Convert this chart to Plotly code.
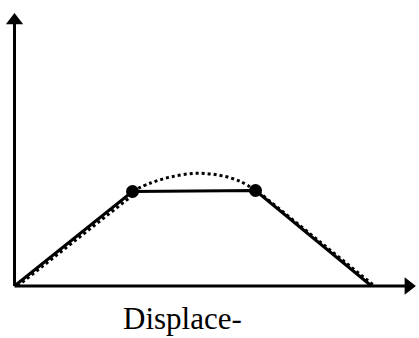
import plotly.graph_objects as go

# Data (units: displacement / force, origin at axis corner)
solid_x = [0, 118, 241, 357]
solid_y = [0, 94.5, 95.5, 0]

dot_pts_x = [118, 241]
dot_pts_y = [94.5, 95.5]

dotted_left_x = [3, 121]
dotted_left_y = [0, 93]
dotted_arc_x = [118, 136, 156, 182, 206, 226, 241]
dotted_arc_y = [95, 103, 109, 112.7, 110.5, 104.5, 95.5]
dotted_right_x = [244, 360]
dotted_right_y = [94, 0]

axis_x_end = 392
axis_y_end = 262
x_label = "Displace-"

fig = go.Figure()

# axes
fig.add_trace(go.Scatter(x=[0, 0], y=[0, axis_y_end], mode="lines",
                         line=dict(color="black", width=3), hoverinfo="skip"))
fig.add_trace(go.Scatter(x=[0, axis_x_end], y=[0, 0], mode="lines",
                         line=dict(color="black", width=3), hoverinfo="skip"))
fig.add_trace(go.Scatter(x=[0], y=[265.4], mode="markers",
                         marker=dict(symbol="triangle-up", size=15, color="black"),
                         hoverinfo="skip"))
fig.add_trace(go.Scatter(x=[393.9], y=[0], mode="markers",
                         marker=dict(symbol="triangle-right", size=15, color="black"),
                         hoverinfo="skip"))

# dotted curve
dline = dict(color="black", width=3, dash="dot")
fig.add_trace(go.Scatter(x=dotted_left_x, y=dotted_left_y, mode="lines", line=dline))
fig.add_trace(go.Scatter(x=dotted_arc_x, y=dotted_arc_y, mode="lines",
                         line=dict(color="black", width=3, dash="dot", shape="spline")))
fig.add_trace(go.Scatter(x=dotted_right_x, y=dotted_right_y, mode="lines", line=dline))

# solid trilinear
fig.add_trace(go.Scatter(x=solid_x, y=solid_y, mode="lines",
                         line=dict(color="black", width=3)))
fig.add_trace(go.Scatter(x=dot_pts_x, y=dot_pts_y, mode="markers",
                         marker=dict(color="black", size=13)))

fig.add_annotation(x=167.5, y=-32, text=x_label, showarrow=False,
                   xref="x", yref="y", xanchor="center", yanchor="middle",
                   font=dict(family="Liberation Serif", size=31, color="black"))

fig.update_layout(
    width=419, height=338,
    margin=dict(l=0, r=0, t=0, b=0),
    paper_bgcolor="white", plot_bgcolor="white",
    showlegend=False,
    xaxis=dict(range=[-14.5, 404.5], visible=False, fixedrange=True),
    yaxis=dict(range=[-52, 286], visible=False, fixedrange=True),
)

fig.write_html("out.html", config={"displayModeBar": False},
               post_script="document.body.style.margin='0px';document.body.style.overflow='hidden';")
